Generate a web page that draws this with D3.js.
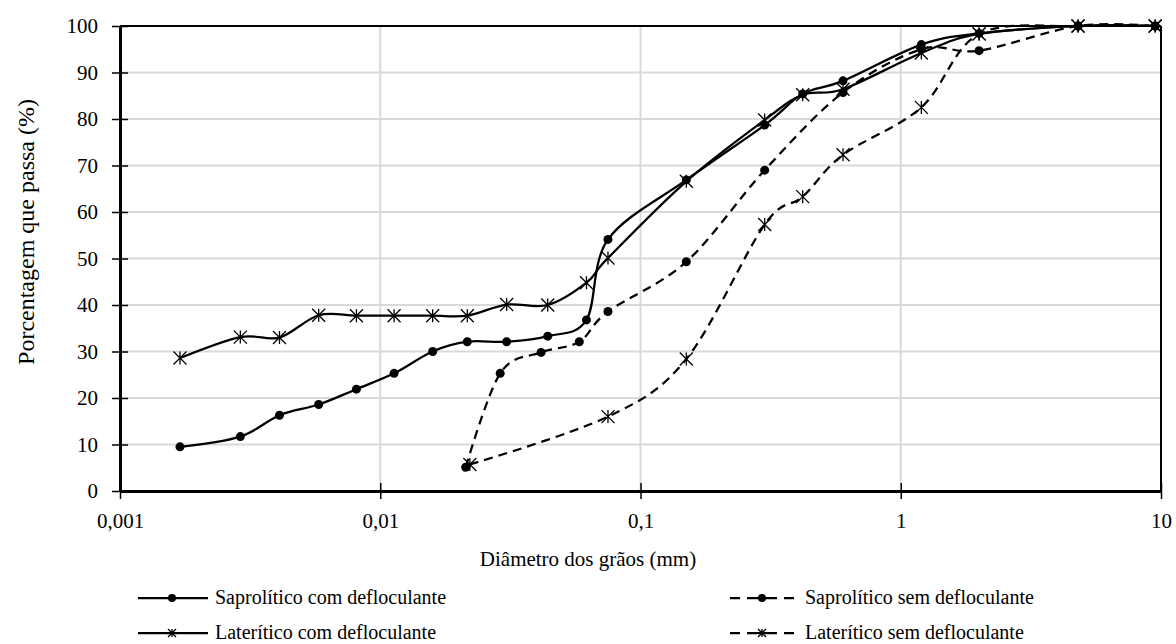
<!DOCTYPE html>
<html>
<head>
<meta charset="utf-8">
<script src="https://cdn.jsdelivr.net/npm/d3@7"></script>
<style>
    body { margin: 0; background: #fff; }
    text { font-family: "Liberation Serif", "DejaVu Serif", serif; fill: #000; }
</style>
</head>
<body>
<div id="chart"></div>
<script>
// tick labels
var xTicks = [0.001, 0.01, 0.1, 1, 10];
var xTickLabels = ["0,001", "0,01", "0,1", "1", "10"];
var yTicks = [0, 10, 20, 30, 40, 50, 60, 70, 80, 90, 100];

// series names
var names = ["Saprolítico com defloculante", "Laterítico com defloculante",
             "Saprolítico sem defloculante", "Laterítico sem defloculante"];

// diametro (mm) / porcentagem que passa (%)
var xSapCom = [0.0017, 0.0029, 0.0041, 0.0058, 0.0081, 0.0113, 0.0159, 0.0216, 0.0306, 0.044, 0.062, 0.075, 0.15, 0.3, 0.42, 0.6, 1.2, 2.0, 4.8, 9.5];
var ySapCom = [9.5, 11.7, 16.3, 18.6, 21.9, 25.3, 30.0, 32.1, 32.1, 33.3, 36.8, 54.1, 66.9, 78.7, 85.4, 88.2, 96.0, 98.4, 100, 100];

var xLatCom = [0.0017, 0.0029, 0.0041, 0.0058, 0.0081, 0.0113, 0.0159, 0.0216, 0.0306, 0.044, 0.062, 0.075, 0.15, 0.3, 0.42, 0.6, 1.2, 2.0, 4.8, 9.5];
var yLatCom = [28.6, 33.1, 33.0, 37.8, 37.7, 37.7, 37.7, 37.7, 40.1, 40.0, 44.8, 50.1, 66.6, 79.8, 85.2, 86.4, 94.2, 98.3, 100, 100];

var xSapSem = [0.0213, 0.0289, 0.0415, 0.0582, 0.075, 0.15, 0.3, 0.6, 1.2, 2.0, 4.8, 9.5];
var ySapSem = [5.1, 25.3, 29.8, 32.1, 38.6, 49.3, 69.0, 85.7, 95.0, 94.7, 100, 100];

var xLatSem = [0.0221, 0.075, 0.15, 0.3, 0.42, 0.6, 1.2, 2.0, 4.8, 9.5];
var yLatSem = [5.7, 16.0, 28.4, 57.3, 63.3, 72.3, 82.5, 98.3, 100, 100];

var width = 1176;
var height = 644;
var margin = { top: 26, right: 15, bottom: 153, left: 120 };

var svg = d3.select('#chart')
    .append('svg')
    .attr('width', width)
    .attr('height', height)
    .attr('font-family', 'Liberation Serif');

var x = d3.scaleLog()
    .domain([0.001, 10])
    .range([margin.left, width - margin.right]);

var y = d3.scaleLinear()
    .domain([0, 100])
    .range([height - margin.bottom, margin.top]);

// grid
svg.append('g')
    .selectAll('line')
    .data(yTicks.slice(1))
    .enter()
    .append('line')
    .attr('x1', x(0.001)).attr('x2', x(10))
    .attr('y1', function(d) { return y(d); })
    .attr('y2', function(d) { return y(d); })
    .style('stroke', '#d9d9d9')
    .style('stroke-width', 2);

svg.append('g')
    .selectAll('line')
    .data(xTicks.slice(1, -1))
    .enter()
    .append('line')
    .attr('x1', function(d) { return x(d); })
    .attr('x2', function(d) { return x(d); })
    .attr('y1', y(0)).attr('y2', y(100))
    .style('stroke', '#d9d9d9')
    .style('stroke-width', 2);

// plot border top / right
svg.append('line')
    .attr('x1', x(0.001)).attr('x2', x(10))
    .attr('y1', y(100)).attr('y2', y(100))
    .style('stroke', '#000').style('stroke-width', 2);
svg.append('line')
    .attr('x1', x(10)).attr('x2', x(10))
    .attr('y1', y(0)).attr('y2', y(100))
    .style('stroke', '#000').style('stroke-width', 2);

// axes
var xAxis = svg.append('g')
    .attr('transform', 'translate(0,' + y(0) + ')')
    .call(d3.axisBottom(x)
        .tickValues(xTicks)
        .tickFormat(function(d, i) { return xTickLabels[i]; })
        .tickSizeInner(8)
        .tickSizeOuter(0)
        .tickPadding(14));
xAxis.attr('font-family', null).attr('font-size', null);
xAxis.select('.domain').style('stroke-width', 3);
xAxis.selectAll('.tick line').attr('y1', -8).style('stroke-width', 1.5);
xAxis.selectAll('text').style('font-size', '21px');

var yAxis = svg.append('g')
    .attr('transform', 'translate(' + x(0.001) + ',0)')
    .call(d3.axisLeft(y)
        .tickValues(yTicks)
        .tickSizeInner(8)
        .tickSizeOuter(0)
        .tickPadding(14));
yAxis.attr('font-family', null).attr('font-size', null);
yAxis.select('.domain').style('stroke-width', 3);
yAxis.selectAll('.tick line').attr('x1', 8).attr('x2', -8).style('stroke-width', 1.5);
yAxis.selectAll('text').style('font-size', '21px');

// axis titles
svg.append('text')
    .attr('x', 588)
    .attr('y', 566)
    .attr('text-anchor', 'middle')
    .style('font-size', '21px')
    .text('Diâmetro dos grãos (mm)');

svg.append('text')
    .attr('transform', 'translate(34,232) rotate(-90)')
    .attr('text-anchor', 'middle')
    .style('font-size', '24px')
    .text('Porcentagem que passa (%)');

function star(s) {
    return 'M0,' + (-s) + 'L0,' + s +
        'M' + (-s) + ',' + (-s) + 'L' + s + ',' + s +
        'M' + (-s) + ',' + s + 'L' + s + ',' + (-s);
}

var series = [
    { name: names[0], xs: xSapCom, ys: ySapCom, dash: null, marker: 'dot' },
    { name: names[1], xs: xLatCom, ys: yLatCom, dash: null, marker: 'star' },
    { name: names[2], xs: xSapSem, ys: ySapSem, dash: '9,6', marker: 'dot' },
    { name: names[3], xs: xLatSem, ys: yLatSem, dash: '9,6', marker: 'star' }
];

var line = d3.line()
    .x(function(d) { return x(d[0]); })
    .y(function(d) { return y(d[1]); })
    .curve(d3.curveCardinal.tension(0));

// draw in reverse so the solid curves sit on top
series.slice().reverse().forEach(function(s) {
    var pts = s.xs.map(function(v, i) { return [v, s.ys[i]]; });

    svg.append('path')
        .datum(pts)
        .attr('d', line)
        .style('fill', 'none')
        .style('stroke', '#000')
        .style('stroke-width', 2.25)
        .style('stroke-dasharray', s.dash);

    var g = svg.append('g');
    if (s.marker == 'dot') {
        g.selectAll('circle')
            .data(pts)
            .enter()
            .append('circle')
            .attr('cx', function(d) { return x(d[0]); })
            .attr('cy', function(d) { return y(d[1]); })
            .attr('r', 4.5)
            .style('fill', '#000');
    } else {
        g.selectAll('path')
            .data(pts)
            .enter()
            .append('path')
            .attr('d', star(6.5))
            .attr('transform', function(d) { return 'translate(' + x(d[0]) + ',' + y(d[1]) + ')'; })
            .style('fill', 'none')
            .style('stroke', '#000')
            .style('stroke-width', 1.3);
    }
});

// legend
var legendPos = [[138, 598], [138, 633], [728, 598], [728, 633]];

series.forEach(function(s, i) {
    var lx = legendPos[i][0];
    var ly = legendPos[i][1];
    var g = svg.append('g').attr('transform', 'translate(' + lx + ',' + ly + ')');
    var mid = 34;

    if (s.dash) {
        // dashes run outward from the marker
        g.append('line').attr('x1', mid).attr('x2', 0).attr('y1', 0).attr('y2', 0)
            .style('stroke', '#000').style('stroke-width', 2.25).style('stroke-dasharray', '15,7,10');
        g.append('line').attr('x1', mid).attr('x2', 69).attr('y1', 0).attr('y2', 0)
            .style('stroke', '#000').style('stroke-width', 2.25).style('stroke-dasharray', '15,7,10');
    } else {
        g.append('line').attr('x1', 0).attr('x2', 70).attr('y1', 0).attr('y2', 0)
            .style('stroke', '#000').style('stroke-width', 2.25);
    }

    if (s.marker == 'dot') {
        g.append('circle').attr('cx', mid).attr('cy', 0).attr('r', 4).style('fill', '#000');
    } else {
        g.append('path')
            .attr('d', star(4))
            .attr('transform', 'translate(' + mid + ',0)')
            .style('fill', 'none')
            .style('stroke', '#000')
            .style('stroke-width', 1.3);
    }

    g.append('text')
        .attr('x', 77)
        .attr('y', 6)
        .style('font-size', '20px')
        .text(s.name);
});
</script>
</body>
</html>
